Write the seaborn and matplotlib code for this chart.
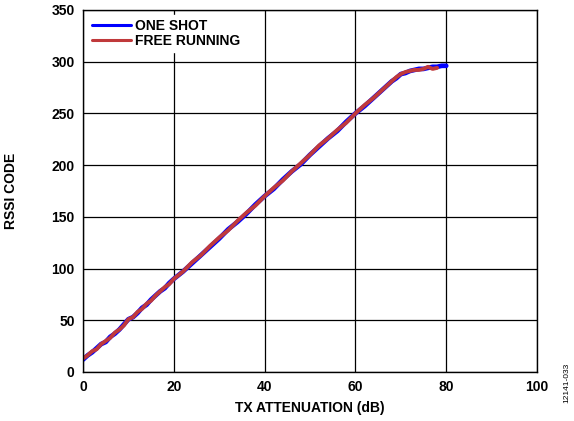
import matplotlib
matplotlib.use("Agg")
import matplotlib.pyplot as plt
import seaborn as sns
import pandas as pd

atten_one = [0, 1, 2, 3, 4, 5, 6, 7, 8, 9, 10, 11, 12, 13, 14, 15, 16, 17, 18, 19, 20,
             22, 24, 26, 28, 30, 32, 34, 36, 38, 40, 42, 44, 46, 48, 50, 52, 54, 56, 58, 60,
             62, 64, 66, 68, 69, 70, 71, 72, 73, 74, 75, 76, 77, 78, 79, 80]
rssi_one = [12, 16, 19, 23, 27, 29, 34, 37, 41, 46, 51, 53, 57, 62, 65, 70, 74, 78, 81, 86, 90,
            97, 105, 113, 121, 129, 138, 145, 153, 162, 170, 177, 186, 194, 201, 210, 218, 226, 233, 242, 250,
            257, 265, 273, 281, 284, 288, 289, 291, 292, 293, 293, 294, 295, 295, 296, 296]
atten_free = [0, 1, 2, 3, 4, 5, 6, 7, 8, 9, 10, 11, 12, 13, 14, 15, 16, 17, 18, 19, 20,
              22, 24, 26, 28, 30, 32, 34, 36, 38, 40, 42, 44, 46, 48, 50, 52, 54, 56, 58, 60,
              62, 64, 66, 68, 69, 70, 71, 72, 73, 74, 75, 76, 77, 78]
rssi_free = [13, 16, 20, 22, 27, 30, 33, 38, 41, 45, 51, 53, 58, 61, 66, 69, 74, 78, 82, 85, 90,
             97, 106, 113, 122, 130, 137, 146, 154, 161, 170, 178, 185, 194, 202, 210, 219, 226, 234, 241, 250,
             258, 265, 273, 281, 285, 288, 290, 291, 292, 292, 293, 295, 293, 294]

df = pd.concat([
    pd.DataFrame({"atten": atten_one, "rssi": rssi_one, "mode": "ONE SHOT"}),
    pd.DataFrame({"atten": atten_free, "rssi": rssi_free, "mode": "FREE RUNNING"}),
])

sns.set_style("white")
plt.rcParams["font.family"] = ["Liberation Sans", "DejaVu Sans"]
plt.rcParams["text.color"] = "black"
plt.rcParams["axes.labelcolor"] = "black"
plt.rcParams["xtick.color"] = "black"
plt.rcParams["ytick.color"] = "black"

fig = plt.figure(figsize=(5.74, 4.21), dpi=100)
ax = fig.add_axes([0.1446, 0.1164, 0.791, 0.86])

sns.lineplot(data=df[df["mode"] == "ONE SHOT"], x="atten", y="rssi", color="#0000ff",
             linewidth=3.4, ax=ax, label="ONE SHOT")
sns.lineplot(data=df[df["mode"] == "FREE RUNNING"], x="atten", y="rssi", color="#c0393b",
             linewidth=2.8, ax=ax, label="FREE RUNNING")

ax.set_xlim(0, 100)
ax.set_ylim(0, 350)
ax.set_xticks(range(0, 101, 20))
ax.set_yticks(range(0, 351, 50))
ax.grid(True, color="black", linewidth=0.9)
ax.set_axisbelow(True)
for s in ax.spines.values():
    s.set_color("black")
    s.set_linewidth(1.0)
ax.tick_params(length=0, labelsize=10, pad=6, colors="black")
for lab in ax.get_xticklabels() + ax.get_yticklabels():
    lab.set_fontweight("bold")
ax.set_xlabel("TX ATTENUATION (dB)", fontsize=10, fontweight="bold", labelpad=5, color="black")
ax.set_ylabel("RSSI CODE", fontsize=10, fontweight="bold", labelpad=24, color="black")

leg = ax.legend(loc="upper left", frameon=True, fancybox=False, framealpha=1,
                edgecolor="white", prop={"weight": "bold", "size": 10},
                borderpad=0.25, labelspacing=0.1, handlelength=2.8, handletextpad=0.3,
                borderaxespad=0.4)
for line in leg.get_lines():
    line.set_linewidth(2.2)
for t in leg.get_texts():
    t.set_color("black")

fig.text(0.988, 0.09, "12141-033", rotation=90, fontsize=6, ha="center", va="center",
         color="black")

fig.savefig("out.png", dpi=100)
